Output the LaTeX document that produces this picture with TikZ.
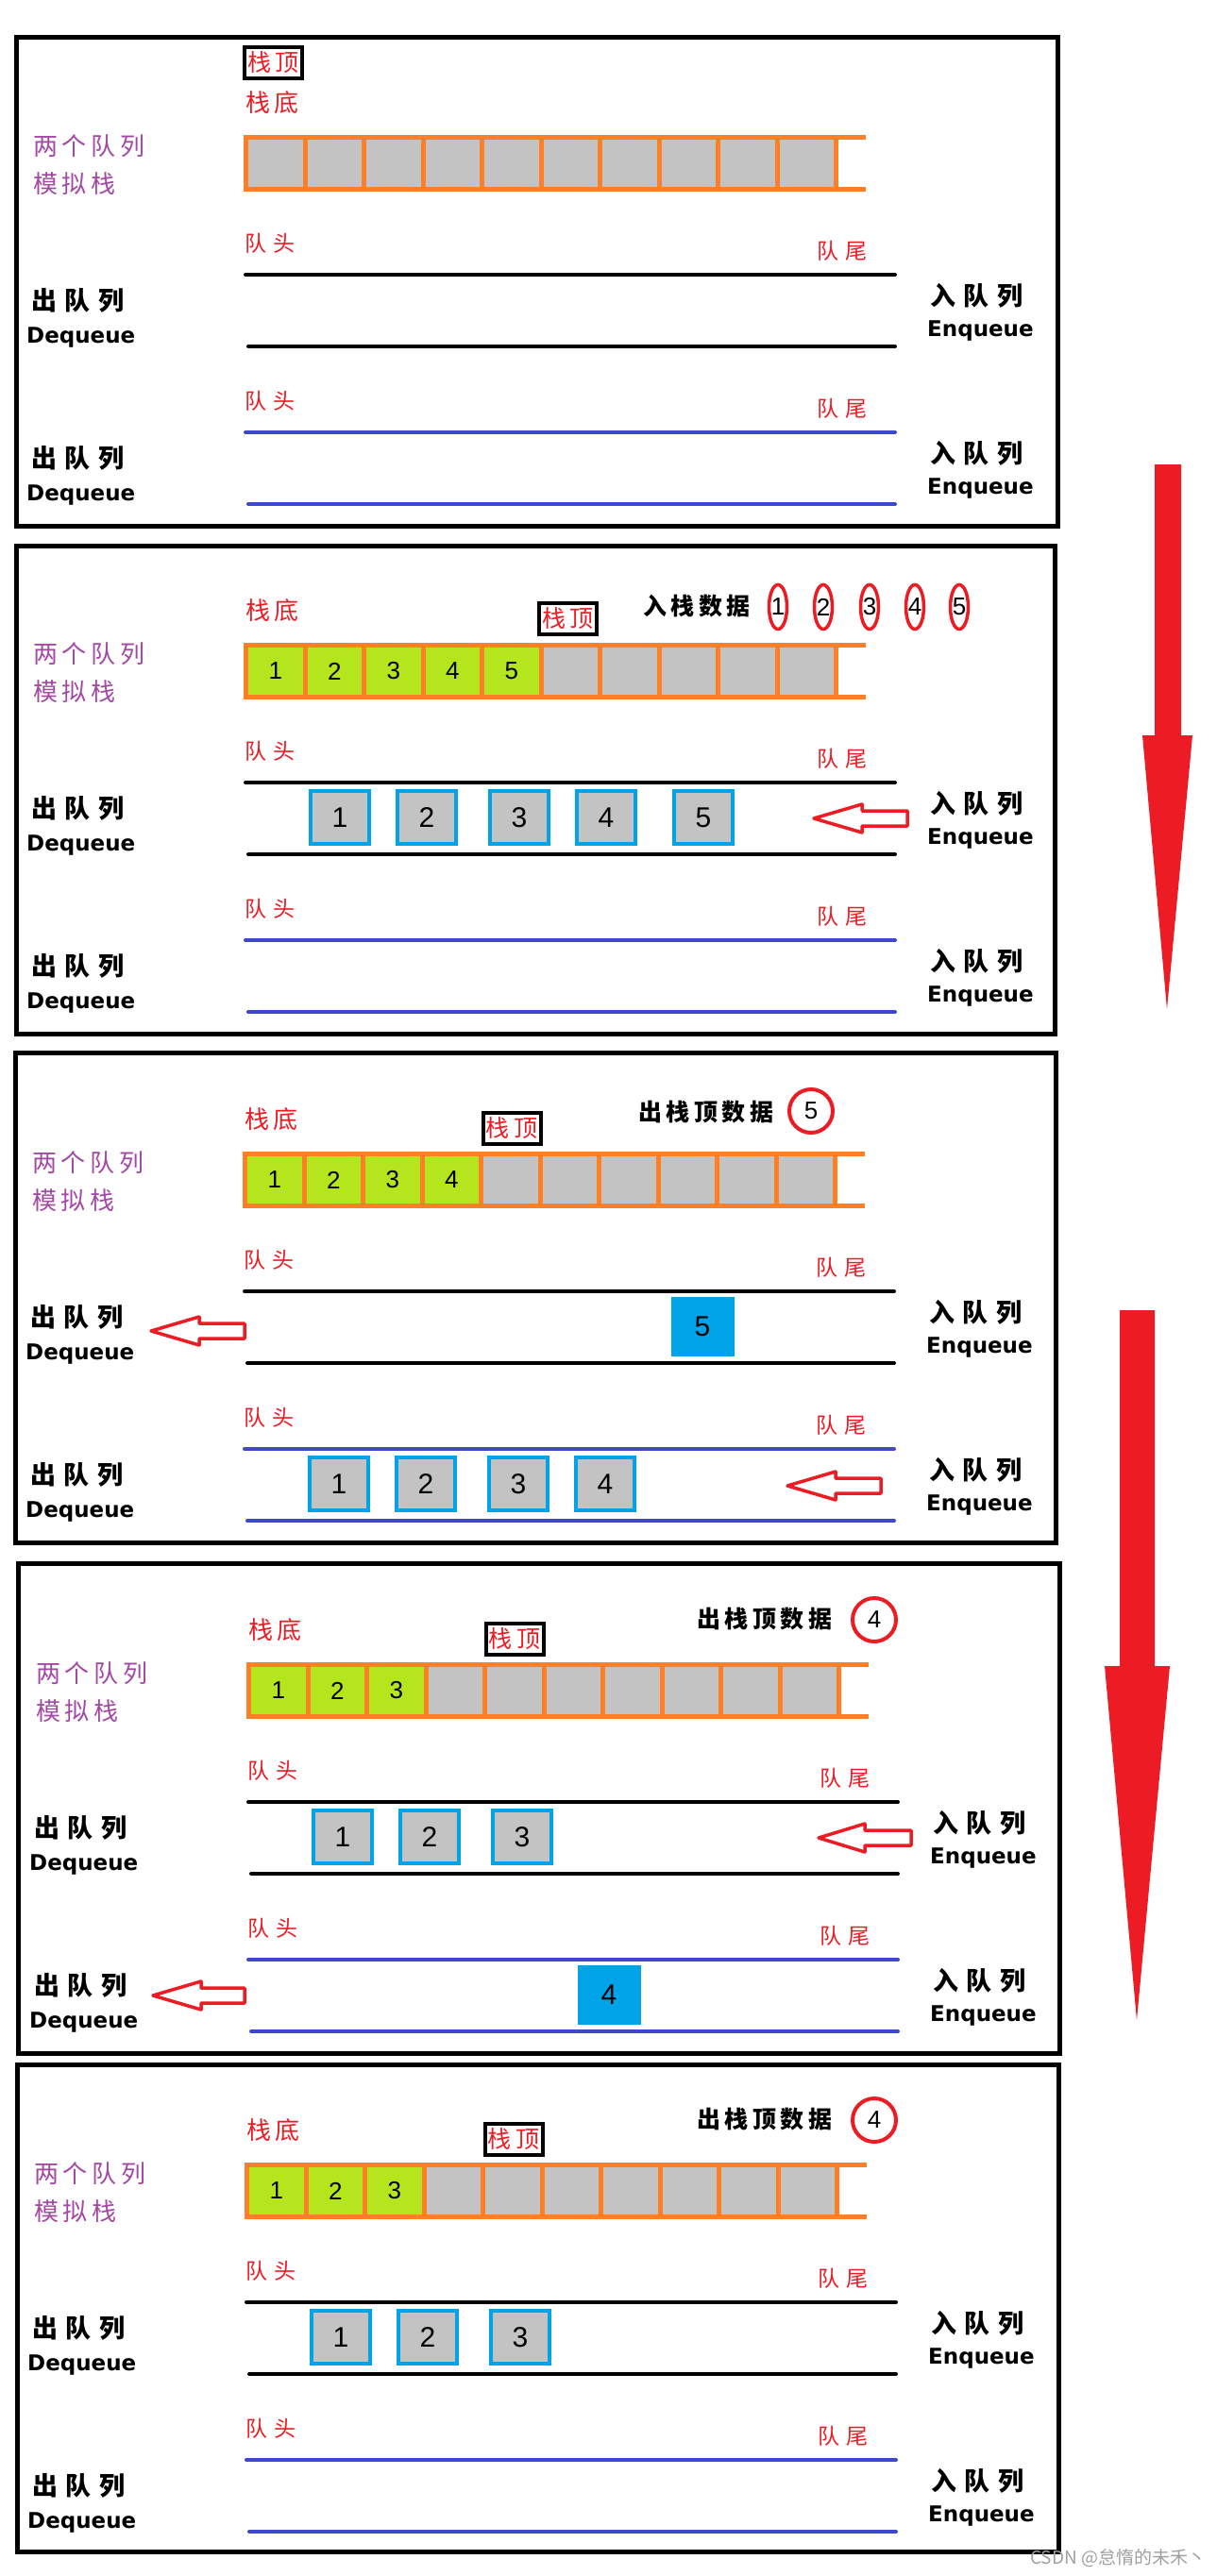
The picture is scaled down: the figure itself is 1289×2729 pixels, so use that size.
\documentclass[tikz,border=0pt]{standalone}
\usepackage{fontspec}
\usetikzlibrary{shapes.geometric}
\setmainfont{Liberation Sans}
\newfontfamily\cjk[LetterSpace=18]{Noto Sans CJK SC}
\newfontfamily\cjkw[LetterSpace=32]{Noto Sans CJK SC}
\newfontfamily\cjkplain{Noto Sans CJK SC}
\newfontfamily\latb{DejaVu Sans}
\newfontfamily\digf{Liberation Sans}
\definecolor{pred}{HTML}{ED1C24}
\definecolor{ppurple}{HTML}{A349A4}
\definecolor{porange}{HTML}{FF7F27}
\definecolor{plime}{HTML}{B5E61D}
\definecolor{pgray}{HTML}{C3C3C3}
\definecolor{pcyan}{HTML}{00A2E8}
\definecolor{pindigo}{HTML}{3F48CC}
\definecolor{pwm}{HTML}{A0A0A0}
\tikzset{
  panelframe/.style={draw=black, line width=5pt},
  redlab/.style={text=pred, font=\cjk\fontsize{26}{26}\selectfont, inner sep=0pt, anchor=west},
  qlab/.style={text=pred, font=\cjkw\fontsize{23}{23}\selectfont, inner sep=0pt, anchor=west},
  purplab/.style={text=ppurple, font=\cjk\fontsize{26}{26}\selectfont, inner sep=0pt, anchor=west},
  blab/.style={text=black, font=\cjkw\bfseries\fontsize{27}{27}\selectfont, inner sep=0pt, anchor=west},
  dlab/.style={text=black, font=\cjk\bfseries\fontsize{25}{25}\selectfont, inner sep=0pt, anchor=west},
  elab/.style={text=black, font=\latb\bfseries\fontsize{23}{23}\selectfont, inner sep=0pt, anchor=base west},
  topbox/.style={draw=black, line width=4pt, fill=white, text=pred, font=\cjk\fontsize{25}{25}\selectfont, minimum width=61pt, minimum height=33pt, inner sep=0pt},
  cdigit/.style={font=\digf\fontsize{26}{26}\selectfont, inner sep=0pt},
  qbox/.style={draw=pcyan, fill=pgray, line width=4pt, minimum width=62pt, minimum height=56pt, inner sep=0pt, font=\digf\fontsize{30}{30}\selectfont},
  qsolid/.style={fill=pcyan, minimum width=67pt, minimum height=63pt, inner sep=0pt, font=\digf\fontsize{30}{30}\selectfont},
  odigit/.style={font=\digf\fontsize{26}{26}\selectfont, inner sep=0pt},
  pellipse/.style={draw=pred, line width=3.5pt},
  pcircle/.style={circle, draw=pred, line width=4pt, minimum size=46pt, inner sep=0pt, font=\digf\fontsize{26}{26}\selectfont},
  stackline/.style={draw=porange, line width=5pt},
  qline/.style={line width=4pt, line cap=round},
  harrow/.style={draw=pred, line width=3.5pt, line join=round},
  bigarrow/.style={fill=pred},
  wmark/.style={text=pwm, font=\cjkplain\fontsize{19}{19}\selectfont, inner sep=0pt, anchor=west},
}
% stack of 10 cells, #2 green
\newcommand{\stackbar}[2]{%
  \foreach \k in {1,...,10}{
    \pgfmathsetmacro{\xa}{243.5+62.5*(\k-1)}
    \pgfmathsetmacro{\xb}{\xa+62.5}
    \pgfmathsetmacro{\xc}{\xa+31.25}
    \ifnum\k>#2\relax
      \fill[pgray] (\xa,107.5) rectangle (\xb,162.5);
    \else
      \fill[plime] (\xa,107.5) rectangle (\xb,162.5);
      \node[cdigit] (#1c\k) at (\xc,135) {\k};
    \fi
  }
  \draw[stackline] (241,107.5) -- (900,107.5);
  \draw[stackline] (241,162.5) -- (900,162.5);
  \foreach \k in {0,...,10}{
    \pgfmathsetmacro{\xs}{243.5+62.5*\k}
    \draw[stackline] (\xs,107.5) -- (\xs,162.5);
  }
}
% queue: prefix, y of upper line, colour
\newcommand{\queuepair}[3]{%
  \node[qlab] (#1head) at (242,{#2-33.5}) {队头};
  \node[qlab] (#1tail) at (848,{#2-25.5}) {队尾};
  \draw[qline, draw=#3] (243,#2) -- (931,#2);
  \draw[qline, draw=#3] (246,{#2+76}) -- (931,{#2+76});
  \node[blab] (#1out) at (16,{#2+27.5}) {出队列};
  \node[elab] (#1deq) at (11,{#2+72}) {Dequeue};
  \node[blab] (#1in) at (968,{#2+22}) {入队列};
  \node[elab] (#1enq) at (965,{#2+65}) {Enqueue};
}
\newcommand{\panelcommon}[2]{%
  \node[redlab] (#1sb) at (243,71) {栈底};
  \node[purplab] (#1t1) at (18,116.5) {两个队列};
  \node[purplab] (#1t2) at (18,156.5) {模拟栈};
  \stackbar{#1}{#2}
  \queuepair{#1a}{253}{black}
  \queuepair{#1b}{420}{pindigo}
}
% hollow left arrow: tip x, head back x, right x, y
\newcommand{\hollowarrow}[4]{%
  \draw[harrow] (#1,#4) -- (#2,{#4-15}) -- (#2,{#4-8}) -- (#3,{#4-8}) -- (#3,{#4+8}) -- (#2,{#4+8}) -- (#2,{#4+15}) -- cycle;
}
\begin{document}
\begin{tikzpicture}[x=1pt,y=-1pt]
\fill[white] (0,0) rectangle (1289,2729);
\useasboundingbox (0,0) rectangle (1289,2729);

% frames
\draw[panelframe] (17.5,39.5) rectangle (1120,557);
\draw[panelframe] (17,578) rectangle (1117,1095);
\draw[panelframe] (16,1115) rectangle (1118.5,1634);
\draw[panelframe] (19,1656.5) rectangle (1122,2175);
\draw[panelframe] (18,2187) rectangle (1121,2703);

% panel 1
\begin{scope}[shift={(17,38)}]
  \panelcommon{pa}{0}
  \node[topbox] (patop) at (272.5,28.5) {栈顶};
\end{scope}

% panel 2
\begin{scope}[shift={(17,576)}]
  \panelcommon{pb}{5}
  \node[topbox] (pbtop) at (584.5,79.5) {栈顶};
  \node[dlab] (pbpush) at (664,66.5) {入栈数据};
  \foreach \i/\cx in {1/807,2/855,3/904,4/952,5/999}{
    \node[odigit] (pbin\i) at (\cx,67) {\i};
    \draw[pellipse] (pbin\i.center) ellipse [x radius=9.5, y radius=23.5];
  }
  \node[qbox] (pbq1) at (343,290) {1};
  \node[qbox] (pbq2) at (435,290) {2};
  \node[qbox] (pbq3) at (533,290) {3};
  \node[qbox] (pbq4) at (625,290) {4};
  \node[qbox] (pbq5) at (728,290) {5};
  \hollowarrow{845}{896}{944}{291}
\end{scope}

% panel 3
\begin{scope}[shift={(16,1115)}]
  \panelcommon{pc}{4}
  \node[topbox] (pctop) at (526,80) {栈顶};
  \node[dlab] (pcpop) at (660,63) {出栈顶数据};
  \node[pcircle] (pcpopnum) at (843,62) {5};
  \node[qsolid] (pcq5) at (728,290) {5};
  \node[qbox] (pcr1) at (343,457) {1};
  \node[qbox] (pcr2) at (435,457) {2};
  \node[qbox] (pcr3) at (533,457) {3};
  \node[qbox] (pcr4) at (625,457) {4};
  \hollowarrow{144}{195}{243}{295}
  \hollowarrow{818}{869}{917}{459}
\end{scope}

% panel 4
\begin{scope}[shift={(20,1656)}]
  \panelcommon{pd}{3}
  \node[topbox] (pdtop) at (525,80) {栈顶};
  \node[dlab] (pdpop) at (718,59) {出栈顶数据};
  \node[pcircle] (pdpopnum) at (906,60) {4};
  \node[qbox] (pdq1) at (343,290) {1};
  \node[qbox] (pdq2) at (435,290) {2};
  \node[qbox] (pdq3) at (533,290) {3};
  \node[qsolid] (pdr4) at (625,457) {4};
  \hollowarrow{847}{896}{945}{291}
  \hollowarrow{142}{193}{239}{458}
\end{scope}

% panel 5
\begin{scope}[shift={(18,2186)}]
  \panelcommon{pe}{3}
  \node[topbox] (petop) at (526,80) {栈顶};
  \node[dlab] (pepop) at (720,59) {出栈顶数据};
  \node[pcircle] (pepopnum) at (908,60) {4};
  \node[qbox] (peq1) at (343,290) {1};
  \node[qbox] (peq2) at (435,290) {2};
  \node[qbox] (peq3) at (533,290) {3};
\end{scope}

% big arrows
\fill[bigarrow] (1223,492) -- (1251,492) -- (1251,779) -- (1263,779) -- (1236,1069) -- (1210,779) -- (1223,779) -- cycle;
\fill[bigarrow] (1186,1388) -- (1223,1388) -- (1223,1765) -- (1239,1765) -- (1204,2140) -- (1170,1765) -- (1186,1765) -- cycle;

% watermark
\node[wmark] (wm) at (1091,2710) {CSDN @怠惰的未禾丶};
\end{tikzpicture}
\end{document}
